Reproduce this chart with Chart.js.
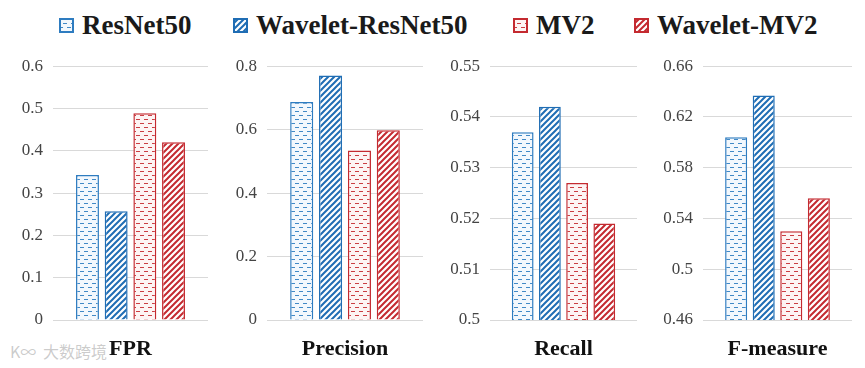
<!DOCTYPE html>
<html>
<head>
<meta charset="utf-8">
<script src="https://cdn.jsdelivr.net/npm/chart.js@4/dist/chart.umd.min.js"></script>
<style>
  body { margin: 0; background: #fff; width: 865px; height: 368px; overflow: hidden; position: relative; font-family: "Liberation Serif", serif; }
  canvas.panel { position: absolute; top: 46px; }
  .leg { position: absolute; top: 10px; display: flex; align-items: center; font-weight: bold; font-size: 27px; color: #1a1a1a; white-space: nowrap; }
  .leg canvas { margin-right: 8px; }
  .mark { position: absolute; top: 339px; font-family: "Noto Sans CJK SC"; font-size: 16px; color: rgba(160,160,160,0.55); }
</style>
</head>
<body>
<div class="mark" style="left:10px">K∞</div>
<div class="mark" style="left:43px">大数跨境</div>
<script>
  const models = ["ResNet50", "Wavelet-ResNet50", "MV2", "Wavelet-MV2"];
  const metrics = ["FPR", "Precision", "Recall", "F-measure"];

  const fpr = [0.343, 0.257, 0.489, 0.42];
  const precision = [0.687, 0.771, 0.534, 0.598];
  const recall = [0.537, 0.542, 0.527, 0.519];
  const fmeasure = [0.604, 0.637, 0.530, 0.556];

  const axisMin = [0, 0, 0.5, 0.46];
  const axisMax = [0.6, 0.8, 0.55, 0.66];
  const axisStep = [0.1, 0.2, 0.01, 0.04];

  const blue = "#2e7cc0";
  const red = "#c42a30";

  // small tiles used as fill patterns
  const makeTile = (kind, color) => {
    const c = document.createElement("canvas");
    const g = c.getContext("2d");
    if (kind === "dash") {
      c.width = 8; c.height = 8;
      g.fillStyle = color === blue ? "#f3f8fd" : "#fdf4f4";
      g.fillRect(0, 0, 8, 8);
      g.fillStyle = color;
      g.globalAlpha = 0.9;
      g.fillRect(0, 1, 4, 1);
      g.fillRect(4, 5, 4, 1);
    } else {
      c.width = 6; c.height = 6;
      g.fillStyle = "#fff";
      g.fillRect(0, 0, 6, 6);
      g.strokeStyle = color;
      g.lineWidth = 2;
      g.beginPath();
      g.moveTo(-1, 7); g.lineTo(7, -1);
      g.moveTo(-4, 4); g.lineTo(4, -4);
      g.moveTo(2, 10); g.lineTo(10, 2);
      g.stroke();
    }
    return c;
  };

  const styles = [
    ["dash", blue], ["diag", "#1f6db4"], ["dash", red], ["diag", red]
  ];
  const borders = [blue, "#1f6db4", red, red];

  // legend
  const legendLeft = [59, 233, 513, 634];
  models.forEach((m, i) => {
    const d = document.createElement("div");
    d.className = "leg";
    d.style.left = legendLeft[i] + "px";
    const box = document.createElement("canvas");
    box.width = 15; box.height = 15;
    const g = box.getContext("2d");
    g.fillStyle = g.createPattern(makeTile(styles[i][0], styles[i][1]), "repeat");
    g.fillRect(0, 0, 15, 15);
    g.strokeStyle = borders[i];
    g.lineWidth = 2;
    g.strokeRect(1, 1, 13, 13);
    d.appendChild(box);
    d.appendChild(document.createTextNode(m));
    document.body.appendChild(d);
  });

  const series = [fpr, precision, recall, fmeasure];
  const panelLeft = [0, 215, 430, 642];
  const panelWidth = [215, 215, 212, 223];
  const yAxisWidth = [53, 52, 60, 61];
  const rightPad = [7, 7, 5, 13];

  metrics.forEach((metric, p) => {
    const cv = document.createElement("canvas");
    cv.className = "panel";
    cv.width = panelWidth[p];
    cv.height = 322;
    cv.style.left = panelLeft[p] + "px";
    document.body.appendChild(cv);
    const ctx = cv.getContext("2d");

    new Chart(ctx, {
      type: "bar",
      data: {
        labels: [metric],
        datasets: models.map((m, i) => ({
          label: m,
          data: [series[p][i]],
          backgroundColor: ctx.createPattern(makeTile(styles[i][0], styles[i][1]), "repeat"),
          borderColor: borders[i],
          borderWidth: 1.5,
          categoryPercentage: 0.74,
          barPercentage: 0.8,
        })),
      },
      options: {
        responsive: false,
        animation: false,
        layout: { padding: { top: 2, right: rightPad[p], bottom: 0, left: 0 } },
        plugins: { legend: { display: false }, tooltip: { enabled: false } },
        scales: {
          x: {
            grid: { display: false },
            border: { display: false },
            ticks: { color: "#111", padding: 8, font: { family: "Liberation Serif", size: 22, weight: "bold" } },
            afterFit: (s) => { s.height = 48; },
          },
          y: {
            min: axisMin[p],
            max: axisMax[p],
            ticks: {
              stepSize: axisStep[p],
              padding: 10,
              color: "#444",
              font: { family: "Liberation Serif", size: 17 },
              callback: (v) => String(+v.toFixed(3)),
            },
            grid: { color: "#d9d9d9", drawTicks: false },
            border: { display: false },
            afterFit: (s) => { s.width = yAxisWidth[p]; },
          },
        },
      },
    });
  });
</script>
</body>
</html>
